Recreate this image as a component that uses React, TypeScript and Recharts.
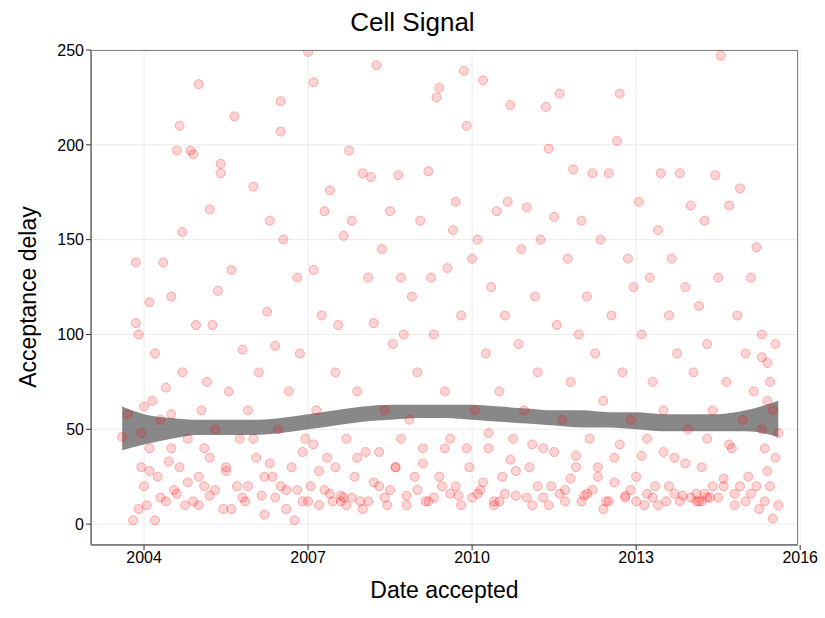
import * as React from 'react'
import { ComposedChart, Scatter, Area, XAxis, YAxis, CartesianGrid } from 'recharts'

// [decimal year, acceptance delay in days]
const pts2003: [number, number][] = [
  [2003.6, 46], [2003.7, 58], [2003.8, 2], [2003.85, 138], [2003.85, 106], [2003.9, 100], [2003.9, 8],
  [2003.95, 30], [2003.95, 48], [2004.0, 62], [2004.0, 20], [2004.05, 10], [2004.1, 117], [2004.1, 40],
  [2004.15, 65], [2004.2, 2], [2004.2, 90], [2004.25, 25], [2004.3, 55],
]
const pts2004: [number, number][] = [
  [2004.35, 138], [2004.4, 12], [2004.4, 72], [2004.45, 33], [2004.5, 120], [2004.5, 58], [2004.55, 18],
  [2004.6, 197], [2004.65, 210], [2004.65, 30], [2004.7, 154], [2004.7, 80], [2004.75, 10], [2004.8, 45],
  [2004.85, 197], [2004.9, 195], [2004.9, 12], [2004.95, 105], [2005.0, 232], [2005.0, 25], [2005.05, 60],
  [2005.1, 40], [2005.15, 75], [2005.2, 166], [2005.2, 15], [2005.25, 105], [2005.3, 50], [2005.35, 123],
  [2005.4, 190], [2005.4, 185], [2005.45, 8], [2005.5, 30], [2005.55, 70], [2005.6, 134], [2005.65, 215],
  [2005.7, 20], [2005.75, 45], [2005.8, 92], [2005.85, 12], [2005.9, 60],
]
const pts2006: [number, number][] = [
  [2006.0, 178], [2006.05, 35], [2006.1, 80], [2006.15, 15], [2006.2, 5], [2006.25, 112], [2006.3, 160],
  [2006.35, 25], [2006.4, 94], [2006.45, 50], [2006.5, 207], [2006.5, 223], [2006.55, 150], [2006.6, 18],
  [2006.65, 70], [2006.7, 30], [2006.75, 2], [2006.8, 130], [2006.85, 90], [2006.9, 12], [2006.95, 45],
  [2007.0, 249], [2007.05, 20], [2007.1, 233], [2007.1, 134], [2007.15, 60], [2007.2, 10], [2007.25, 110],
  [2007.3, 165], [2007.35, 35], [2007.4, 176], [2007.45, 12], [2007.5, 80], [2007.55, 105], [2007.6, 15],
  [2007.65, 152], [2007.7, 45], [2007.75, 197], [2007.8, 160], [2007.85, 25], [2007.9, 70], [2007.95, 12],
]
const pts2008: [number, number][] = [
  [2008.0, 185], [2008.05, 38], [2008.1, 130], [2008.15, 183], [2008.2, 106], [2008.25, 242], [2008.3, 20],
  [2008.35, 145], [2008.4, 60], [2008.45, 10], [2008.5, 165], [2008.55, 95], [2008.6, 30], [2008.65, 184],
  [2008.7, 130], [2008.75, 100], [2008.8, 15], [2008.85, 55], [2008.9, 120], [2008.95, 25], [2009.0, 80],
  [2009.05, 160], [2009.1, 40], [2009.15, 12], [2009.2, 186], [2009.25, 130], [2009.3, 100], [2009.35, 225],
  [2009.4, 230], [2009.45, 20], [2009.5, 70], [2009.55, 135], [2009.6, 45], [2009.65, 155], [2009.7, 170],
  [2009.75, 15], [2009.8, 110], [2009.85, 239], [2009.9, 210], [2009.95, 30], [2010.0, 140], [2010.05, 60],
]
const pts2010: [number, number][] = [
  [2010.1, 150], [2010.15, 18], [2010.2, 234], [2010.25, 90], [2010.3, 40], [2010.35, 125], [2010.4, 12],
  [2010.45, 165], [2010.5, 70], [2010.55, 25], [2010.6, 110], [2010.65, 170], [2010.7, 221], [2010.75, 45],
  [2010.8, 15], [2010.85, 95], [2010.9, 145], [2010.95, 60], [2011.0, 167], [2011.05, 30], [2011.1, 10],
  [2011.15, 120], [2011.2, 80], [2011.25, 150], [2011.3, 40], [2011.35, 220], [2011.4, 198], [2011.45, 20],
  [2011.5, 162], [2011.55, 105], [2011.6, 227], [2011.65, 55], [2011.7, 12], [2011.75, 140], [2011.8, 75],
  [2011.85, 187], [2011.9, 30], [2011.95, 100], [2012.0, 160],
]
const pts2012: [number, number][] = [
  [2012.05, 15], [2012.1, 120], [2012.15, 45], [2012.2, 185], [2012.25, 90], [2012.3, 25], [2012.35, 150],
  [2012.4, 65], [2012.45, 12], [2012.5, 185], [2012.55, 110], [2012.6, 35], [2012.65, 202], [2012.7, 227],
  [2012.75, 80], [2012.8, 15], [2012.85, 140], [2012.9, 55], [2012.95, 125], [2013.0, 25], [2013.05, 170],
  [2013.1, 100], [2013.15, 10], [2013.2, 45], [2013.25, 130], [2013.3, 75], [2013.35, 20], [2013.4, 155],
  [2013.45, 185], [2013.5, 60], [2013.55, 12], [2013.6, 110], [2013.65, 140], [2013.7, 35], [2013.75, 90],
]
const pts2014: [number, number][] = [
  [2013.8, 185], [2013.85, 15], [2013.9, 125], [2013.95, 50], [2014.0, 168], [2014.05, 80], [2014.1, 12],
  [2014.15, 115], [2014.2, 30], [2014.25, 160], [2014.3, 95], [2014.35, 14], [2014.4, 60], [2014.45, 184],
  [2014.5, 130], [2014.55, 247], [2014.6, 20], [2014.65, 75], [2014.7, 168], [2014.75, 40], [2014.8, 10],
  [2014.85, 110], [2014.9, 177], [2014.95, 55], [2015.0, 90], [2015.05, 25], [2015.1, 130], [2015.15, 70],
  [2015.2, 146], [2015.25, 8], [2015.3, 100], [2015.35, 40], [2015.4, 85], [2015.45, 20], [2015.5, 3],
  [2015.5, 60], [2015.55, 35], [2015.55, 95], [2015.6, 10], [2015.6, 48],
]
// dense low-delay band, read as clusters across the whole range
const ptsLow: [number, number][] = [
  [2004.3, 14], [2004.8, 22], [2005.0, 10], [2005.3, 18], [2005.6, 8], [2005.9, 20], [2006.2, 25],
  [2006.4, 14], [2006.6, 8], [2006.8, 18], [2007.0, 12], [2007.2, 28], [2007.4, 16], [2007.6, 12],
  [2007.7, 10], [2007.8, 14], [2008.0, 8], [2008.2, 22], [2008.4, 14], [2008.6, 30], [2008.8, 10],
  [2009.0, 18], [2009.2, 12], [2009.4, 25], [2009.6, 16], [2009.8, 10], [2010.0, 14], [2010.2, 22],
  [2010.4, 10], [2010.6, 16], [2010.8, 28], [2011.0, 14], [2011.2, 20], [2011.4, 10], [2011.6, 16],
  [2011.8, 24], [2012.0, 12], [2012.2, 18], [2012.4, 8], [2012.6, 22], [2012.8, 14], [2013.0, 12],
  [2013.2, 16], [2013.4, 10], [2013.6, 20], [2013.8, 12], [2014.0, 14], [2014.1, 16], [2014.2, 12],
  [2014.3, 14], [2014.4, 20], [2014.6, 24], [2014.8, 16], [2015.0, 12], [2015.2, 20], [2015.4, 28],
  [2004.5, 40], [2005.2, 35], [2006.0, 45], [2006.9, 38], [2007.5, 30], [2008.3, 38], [2009.1, 32],
  [2009.9, 40], [2010.7, 34], [2011.5, 38], [2012.3, 30], [2013.1, 36], [2013.9, 32], [2014.7, 42],
  [2015.3, 50], [2004.1, 28], [2005.5, 28], [2006.3, 32], [2007.1, 42], [2007.9, 35], [2008.7, 45],
  [2009.5, 40], [2010.3, 48], [2011.1, 42], [2011.9, 36], [2012.7, 42], [2013.5, 38], [2014.3, 45],
  [2004.6, 16], [2005.1, 20], [2005.8, 14], [2006.5, 20], [2007.3, 18], [2007.65, 14], [2008.1, 12],
  [2008.5, 18], [2009.3, 14], [2009.7, 20], [2010.1, 16], [2010.5, 12], [2011.3, 14], [2011.7, 18],
  [2012.1, 16], [2012.5, 12], [2012.9, 18], [2013.3, 14], [2013.7, 16], [2014.15, 12], [2014.25, 16],
  [2014.5, 14], [2014.9, 20], [2015.1, 16], [2015.35, 12], [2015.45, 75], [2015.4, 65], [2015.3, 88],
]
const allPoints = [...pts2003, ...pts2004, ...pts2006, ...pts2008, ...pts2010, ...pts2012, ...pts2014, ...ptsLow]

// smoother confidence ribbon
const bandYears = [2003.6, 2004.0, 2004.5, 2005.0, 2005.5, 2006.0, 2006.5, 2007.0, 2007.5, 2008.0, 2008.5, 2009.0, 2009.5, 2010.0, 2010.5, 2011.0, 2011.5, 2012.0, 2012.5, 2013.0, 2013.5, 2014.0, 2014.5, 2015.0, 2015.6]
const bandLow = [39, 42, 45, 47, 47, 47, 48, 50, 52, 54, 55, 56, 56, 55, 54, 53, 52, 51, 51, 50, 49, 49, 49, 49, 46]
const bandHigh = [62, 58, 56, 55, 55, 55, 56, 58, 60, 62, 63, 63, 63, 63, 62, 61, 60, 60, 59, 59, 58, 58, 58, 60, 65]

const scatterData = allPoints.map(([x, y]) => ({ x, y }))
const bandData = bandYears.map((x, i) => ({ x, band: [bandLow[i], bandHigh[i]] }))

const xTicks = [2004, 2007, 2010, 2013, 2016]
const yTicks = [0, 50, 100, 150, 200, 250]

const font = '"Liberation Sans", Arial, sans-serif'

export default function App() {
  return (
    <div style={{ position: 'absolute', left: 0, top: 0, width: 825, height: 618, background: '#fff', fontFamily: font }}>
      <div style={{ position: 'absolute', top: 7, width: 825, textAlign: 'center', fontSize: 26 }}>Cell Signal</div>
      <div style={{ position: 'absolute', top: 577, left: 91, width: 707, textAlign: 'center', fontSize: 23 }}>Date accepted</div>
      <div style={{ position: 'absolute', left: 28, top: 297, transform: 'translate(-50%, -50%) rotate(-90deg)', fontSize: 23, whiteSpace: 'nowrap' }}>Acceptance delay</div>
      <ComposedChart width={825} height={618} margin={{ top: 50, right: 27, bottom: 43, left: 31 }}>
        <CartesianGrid stroke="#ebebeb" />
        <XAxis type="number" dataKey="x" domain={[2003.03, 2015.96]} ticks={xTicks} allowDataOverflow
          height={30} tick={{ fill: '#000', fontSize: 16, fontFamily: font }} stroke="#333" tickSize={5} />
        <YAxis type="number" dataKey="y" domain={[-11, 250]} ticks={yTicks} allowDataOverflow
          width={60} tick={{ fill: '#000', fontSize: 16, fontFamily: font }} stroke="#333" tickSize={5} />
        <Scatter data={scatterData} dataKey="y" fill="rgba(255,0,0,0.17)" stroke="rgba(255,0,0,0.28)"
          shape="circle" isAnimationActive={false} />
        <Area data={bandData} dataKey="band" type="monotone" fill="#555" fillOpacity={0.7} stroke="none"
          isAnimationActive={false} />
      </ComposedChart>
      <div style={{ position: 'absolute', left: 91, top: 50, width: 707, height: 495, border: '1px solid #7f7f7f', boxSizing: 'border-box', pointerEvents: 'none' }} />
    </div>
  )
}
